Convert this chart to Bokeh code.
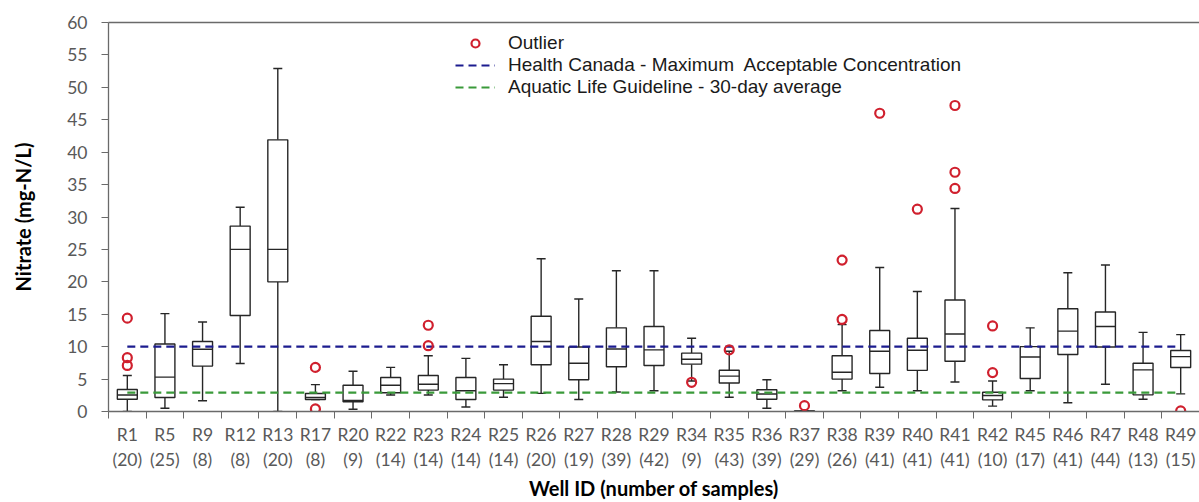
from bokeh.plotting import figure
from bokeh.models import (ColumnDataSource, LinearAxis, FixedTicker, Range1d,
                          Legend, LegendItem)
from bokeh.embed import file_html
from bokeh.resources import INLINE

# Nitrate box-plot summary per monitoring well
wells = ["R1", "R5", "R9", "R12", "R13", "R17", "R20", "R22", "R23", "R24",
         "R25", "R26", "R27", "R28", "R29", "R34", "R35", "R36", "R37", "R38",
         "R39", "R40", "R41", "R42", "R45", "R46", "R47", "R48", "R49"]
n_samples = [20, 25, 8, 8, 20, 8, 9, 14, 14, 14, 14, 20, 19, 39, 42, 9, 43, 39,
             29, 26, 41, 41, 41, 10, 17, 41, 44, 13, 15]

whisker_low = [0.0, 0.5, 1.65, 7.4, 0.0, 1.85, 0.35, 2.55, 2.55, 0.7, 2.2, 2.8,
               1.85, 3.0, 3.2, 4.7, 2.2, 0.5, 0.0, 3.2, 3.75, 3.2, 4.55, 0.83,
               3.2, 1.35, 4.2, 1.9, 2.72]
q1 = [1.9, 2.15, 7.0, 14.8, 20.0, 1.85, 1.5, 2.9, 3.3, 1.85, 3.3, 7.2, 4.9,
      6.9, 7.1, 7.3, 4.4, 1.9, 0.0, 5.0, 5.85, 6.35, 7.75, 1.8, 5.1, 8.8, 9.95,
      2.57, 6.78]
median = [2.55, 5.3, 9.6, 25.0, 25.0, 2.15, 1.7, 4.05, 4.2, 3.2, 4.3, 10.8,
          7.45, 9.65, 9.5, 8.07, 5.45, 2.7, 0.05, 6.05, 9.3, 9.45, 11.95, 2.47,
          8.4, 12.4, 13.1, 6.42, 8.47]
q3 = [3.4, 10.4, 10.8, 28.6, 41.9, 2.77, 4.05, 5.25, 5.55, 5.25, 5.0, 14.7,
      9.95, 12.9, 13.1, 9.0, 6.37, 3.35, 0.1, 8.6, 12.5, 11.3, 17.2, 2.98, 10.0,
      15.85, 15.35, 7.45, 9.4]
whisker_high = [5.55, 15.1, 13.8, 31.5, 52.9, 4.15, 6.2, 6.8, 8.6, 8.2, 7.2,
                23.55, 17.35, 21.7, 21.7, 11.3, 9.3, 4.9, 0.1, 13.4, 22.2, 18.5,
                31.3, 4.7, 12.9, 21.4, 22.6, 12.2, 11.85]

outlier_well = ["R1", "R1", "R1", "R17", "R17", "R23", "R23", "R34", "R35",
                "R37", "R38", "R38", "R39", "R40", "R41", "R41", "R41", "R42",
                "R42", "R49"]
outlier_value = [14.4, 8.3, 7.1, 6.8, 0.4, 13.3, 10.15, 4.5, 9.5, 0.9, 14.2,
                 23.35, 46.0, 31.2, 34.4, 36.9, 47.2, 6.0, 13.2, 0.1]

health_canada_mac = 10.0
aquatic_life_30day = 2.9

y_ticks = list(range(0, 61, 5))

# category slots: well i occupies [i, i+1] on the x scale
centers = [i + 0.5 for i in range(len(wells))]
pos = dict(zip(wells, centers))

box_src = ColumnDataSource(dict(x=centers, lo=whisker_low, q1=q1, med=median,
                                q3=q3, hi=whisker_high))
out_src = ColumnDataSource(dict(x=[pos[w] for w in outlier_well],
                                y=outlier_value))

p = figure(width=1199, height=502, output_backend="svg", toolbar_location=None,
           x_range=Range1d(0, len(wells)), y_range=Range1d(0, 60),
           x_axis_location=None, y_axis_location=None,
           min_border_left=108, min_border_right=0, min_border_top=22,
           min_border_bottom=0)
p.outline_line_color = None
p.xgrid.visible = False
p.ygrid.visible = False
p.background_fill_color = "white"
p.border_fill_color = "white"

AX = "#6a6a6a"
TXT = "#595959"
TICK_FONT = "Lato"

# y axis
yax = LinearAxis(ticker=FixedTicker(ticks=y_ticks, minor_ticks=[]),
                 axis_label="Nitrate (mg-N/L)")
yax.axis_line_color = AX
yax.axis_line_width = 1.3
yax.major_tick_line_color = AX
yax.major_tick_out = 7
yax.major_tick_in = 0
yax.minor_tick_line_color = None
yax.major_label_text_font = TICK_FONT
yax.major_label_text_font_size = "17.5px"
yax.major_label_text_color = TXT
yax.major_label_standoff = 14
yax.axis_label_text_font = TICK_FONT
yax.axis_label_text_font_style = "bold"
yax.axis_label_text_font_size = "20px"
yax.axis_label_text_color = "black"
yax.axis_label_standoff = 29
p.add_layout(yax, "left")

# top frame line
top = LinearAxis(ticker=FixedTicker(ticks=[], minor_ticks=[]))
top.axis_line_color = AX
top.axis_line_width = 1.3
top.major_tick_line_color = None
top.minor_tick_line_color = None
top.major_label_text_font_size = "0px"
p.add_layout(top, "above")

# x axis: well IDs, with tick marks on the slot boundaries
xax = LinearAxis(ticker=FixedTicker(ticks=centers,
                                    minor_ticks=list(range(len(wells) + 1))))
xax.major_label_overrides = {c: w for c, w in zip(centers, wells)}
xax.axis_line_color = AX
xax.axis_line_width = 1.3
xax.major_tick_line_color = None
xax.major_tick_out = 0
xax.major_tick_in = 0
xax.minor_tick_line_color = AX
xax.minor_tick_out = 7
xax.minor_tick_in = 0
xax.major_label_text_font = TICK_FONT
xax.major_label_text_font_size = "17.5px"
xax.major_label_text_color = TXT
xax.major_label_standoff = 5
p.add_layout(xax, "below")

# second row of labels: number of samples, plus axis title
nax = LinearAxis(ticker=FixedTicker(ticks=centers, minor_ticks=[]),
                 axis_label="Well ID (number of samples)")
nax.major_label_overrides = {c: f"({k})" for c, k in zip(centers, n_samples)}
nax.axis_line_color = None
nax.major_tick_line_color = None
nax.minor_tick_line_color = None
nax.major_tick_out = 0
nax.major_tick_in = 0
nax.major_label_text_font = TICK_FONT
nax.major_label_text_font_size = "17.5px"
nax.major_label_text_color = TXT
nax.major_label_standoff = 1
nax.axis_label_text_font = TICK_FONT
nax.axis_label_text_font_style = "bold"
nax.axis_label_text_font_size = "20px"
nax.axis_label_text_color = "black"
nax.axis_label_standoff = 3
p.add_layout(nax, "below")

BOX = "#262626"
# whiskers
p.segment(x0="x", y0="lo", x1="x", y1="q1", source=box_src, line_color=BOX,
          line_width=1.4)
p.segment(x0="x", y0="q3", x1="x", y1="hi", source=box_src, line_color=BOX,
          line_width=1.4)
p.scatter(x="x", y="lo", source=box_src, marker="dash", size=9,
          line_color=BOX, line_width=1.4)
p.scatter(x="x", y="hi", source=box_src, marker="dash", size=9,
          line_color=BOX, line_width=1.4)
# boxes and medians
p.vbar(x="x", bottom="q1", top="q3", width=0.53, source=box_src,
       fill_color="white", line_color=BOX, line_width=1.4)
p.scatter(x="x", y="med", source=box_src, marker="dash", size=20,
          line_color=BOX, line_width=1.4)

# guideline levels across all wells
hc = p.line(x=centers, y=[health_canada_mac] * len(wells),
            line_color="#1c1c8f", line_width=2.2, line_dash="8 5")
al = p.line(x=centers, y=[aquatic_life_30day] * len(wells),
            line_color="#3a9a3a", line_width=2.2, line_dash="8 5")

# outliers
outliers = p.scatter(x="x", y="y", source=out_src, marker="circle", size=9,
                     fill_color=None, line_color="#d0202e", line_width=2.2)

legend = Legend(items=[LegendItem(label="Outlier", renderers=[outliers]),
                       LegendItem(label="Health Canada - Maximum  Acceptable Concentration",
                                  renderers=[hc]),
                       LegendItem(label="Aquatic Life Guideline - 30-day average",
                                  renderers=[al])],
                location=(347, 313))
legend.background_fill_alpha = 0
legend.border_line_color = None
legend.padding = 0
legend.margin = 0
legend.spacing = 0
legend.glyph_width = 40
legend.glyph_height = 20
legend.label_height = 20
legend.label_standoff = 13
legend.label_text_font = "Liberation Sans"
legend.label_text_font_size = "19px"
legend.label_text_color = "#1a1a1a"
p.add_layout(legend, "center")

open("out.html", "w").write(file_html(p, INLINE))
